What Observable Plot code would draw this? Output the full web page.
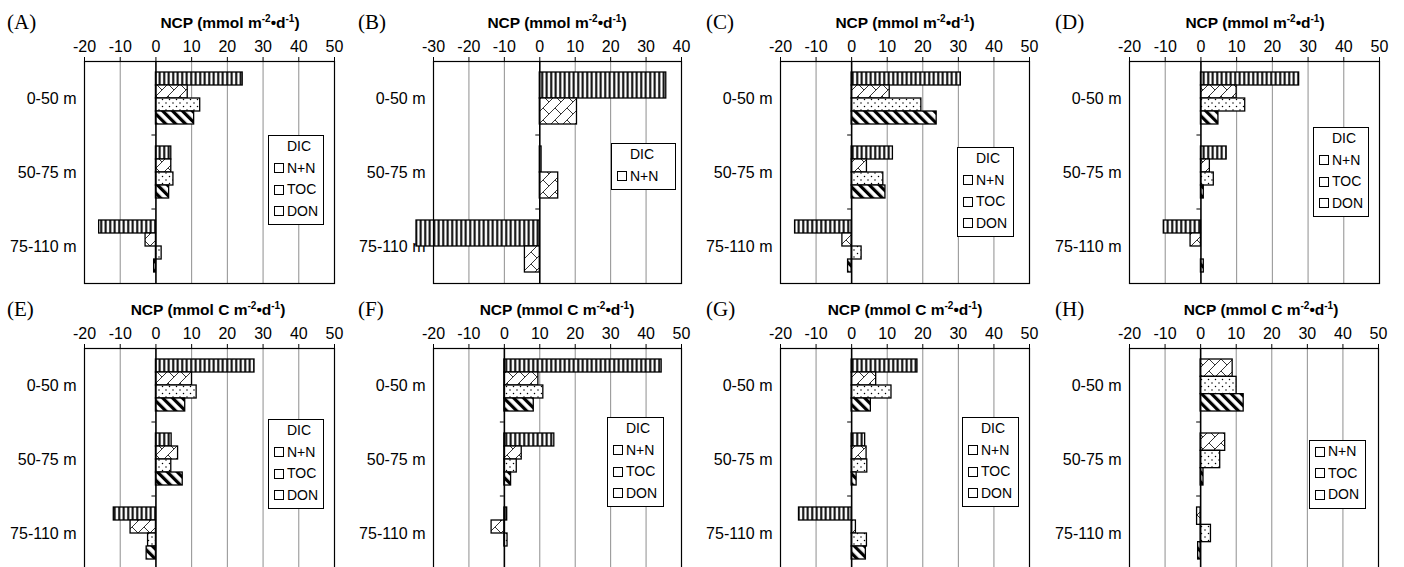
<!DOCTYPE html>
<html><head><meta charset="utf-8">
<script src="https://cdn.jsdelivr.net/npm/d3@7"></script>
<script src="https://cdn.jsdelivr.net/npm/@observablehq/plot@0.6"></script>
<style>
html,body{margin:0;padding:0;background:#fff;overflow:hidden}
#wrap{position:relative;width:1404px;height:567px;overflow:hidden;font-family:"Liberation Sans",Arial,sans-serif;color:#000}
.panel{position:absolute;width:351px;height:290px}
.panel svg{position:absolute;left:0;top:0}
.letter{position:absolute;font-family:"Liberation Serif","Times New Roman",serif;font-size:21px;line-height:21px}
.title{position:absolute;font-weight:bold;font-size:15.5px;line-height:16px;white-space:nowrap;transform:translateX(-50%)}
.title sup{font-size:10px;vertical-align:0;position:relative;top:-6px}
.legend{position:absolute;border:1px solid #000;background:#fff;font-size:14px;line-height:21.5px;padding:0 0 2px 5px;box-sizing:border-box}
.legend .row{display:flex;align-items:center;white-space:nowrap}
.legend .sw{width:8px;height:8px;border:1px solid #000;margin-right:3px;background:#fff;flex:none}
.legend .nosw{width:10px;margin-right:3px;flex:none}
</style></head>
<body>
<svg width="0" height="0" style="position:absolute">
  <defs>
    <pattern id="pat-dic" patternUnits="userSpaceOnUse" width="4.5" height="10">
      <rect width="4.5" height="10" fill="#fff"/>
      <rect x="1.2" width="2" height="10" fill="#000"/>
    </pattern>
    <pattern id="pat-nn" patternUnits="userSpaceOnUse" width="12" height="12">
      <rect width="12" height="12" fill="#fff"/>
      <path d="M-1,13 L13,-1 M0,0 L6,6" stroke="#000" stroke-width="0.8" fill="none"/>
    </pattern>
    <pattern id="pat-toc" patternUnits="userSpaceOnUse" width="7" height="7">
      <rect width="7" height="7" fill="#fff"/>
      <circle cx="1.5" cy="1.5" r="0.75" fill="#000"/>
      <circle cx="5" cy="5" r="0.75" fill="#000"/>
    </pattern>
    <pattern id="pat-don" patternUnits="userSpaceOnUse" width="7" height="7" patternTransform="rotate(-45)">
      <rect width="7" height="7" fill="#fff"/>
      <rect width="3.2" height="7" fill="#000"/>
    </pattern>
  </defs>
</svg>
<div id="wrap"></div>
<script>
// ---- data ----
const depths = ["0-50 m", "50-75 m", "75-110 m"];
const series = ["DIC", "N+N", "TOC", "DON"];
const patternIds = ["pat-dic", "pat-nn", "pat-toc", "pat-don"];

// values per panel: [DIC, N+N, TOC, DON], each over depths (null = series absent)
const valuesA = [[24.3, 4.3, -15.9], [8.9, 4.3, -2.9], [12.4, 4.9, 1.6], [10.7, 3.7, -0.5]];
const valuesB = [[35.7, 0.5, -34.8], [10.5, 5.2, -4.2], null, null];
const valuesC = [[30.7, 11.6, -15.9], [10.7, 4.3, -2.6], [19.6, 8.9, 2.8], [23.9, 9.5, -1.0]];
const valuesD = [[27.5, 7.2, -10.4], [10.0, 2.5, -2.9], [12.4, 3.6, 0], [4.9, 0.8, 0.8]];
const valuesE = [[27.6, 4.4, -11.8], [10.1, 6.2, -7.1], [11.4, 4.3, -2.2], [8.2, 7.5, -2.6]];
const valuesF = [[44.4, 14.1, 0.8], [9.6, 4.9, -3.6], [11.0, 3.5, 0.9], [8.3, 1.9, 0]];
const valuesG = [[18.5, 3.8, -14.8], [6.9, 4.2, 1.2], [11.2, 4.4, 4.3], [5.4, 1.4, 4.0]];
const valuesH = [null, [9.0, 6.9, -1.0], [10.1, 5.5, 2.9], [12.1, 0.8, -0.7]];

const ticksStd = [-20, -10, 0, 10, 20, 30, 40, 50];
const ticksB = [-30, -20, -10, 0, 10, 20, 30, 40];
const letters = ["(A)", "(B)", "(C)", "(D)", "(E)", "(F)", "(G)", "(H)"];
const unitRow1 = "mmol m";
const unitRow2 = "mmol C m";

// ---- layout (panel-local pixel positions) ----
const panels = [
  {vals: valuesA, ticks: ticksStd, x0: 84, x1: 334, tcx: 230, lg: [268, 135, 56]},
  {vals: valuesB, ticks: ticksB,   x0: 82, x1: 330, tcx: 206, lg: [260, 143, 65]},
  {vals: valuesC, ticks: ticksStd, x0: 78, x1: 327, tcx: 203, lg: [255, 147, 57]},
  {vals: valuesD, ticks: ticksStd, x0: 76, x1: 326, tcx: 202, lg: [260, 127, 56]},
  {vals: valuesE, ticks: ticksStd, x0: 84, x1: 334, tcx: 208, lg: [268, 132, 56]},
  {vals: valuesF, ticks: ticksStd, x0: 82, x1: 330, tcx: 206, lg: [256, 130, 57]},
  {vals: valuesG, ticks: ticksStd, x0: 78, x1: 327, tcx: 203, lg: [260, 130, 57]},
  {vals: valuesH, ticks: ticksStd, x0: 76, x1: 325, tcx: 208, lg: [256, 153, 57]}
];
const colLeft = [0, 351, 702, 1053];
const rowTop = [0, 287];

const wrap = document.getElementById("wrap");
const W = 351, H = 290, MT = 61, MB = 7;
const band = (H - MT - MB) / 3;
const pad = 11;

panels.forEach((p, idx) => {
  const row = Math.floor(idx / 4), col = idx % 4;
  const div = document.createElement("div");
  div.className = "panel";
  div.style.left = colLeft[col] + "px";
  div.style.top = rowTop[row] + "px";

  const present = series.map((s, i) => i).filter(i => p.vals[i]);
  const n = present.length;
  const slot = (band - 2 * pad) / n;
  const grid = p.ticks.filter((t, i) => t !== 0 && i > 0 && i < p.ticks.length - 1);
  const domain = [p.ticks[0], p.ticks[p.ticks.length - 1]];

  const barMarks = present.map((si, k) => {
    const data = depths.map((d, j) => ({depth: d, value: p.vals[si][j]})).filter(d => d.value !== 0);
    return Plot.barX(data, {
      x: "value", y: "depth",
      fill: `url(#${patternIds[si]})`, stroke: "#000", strokeWidth: 1.3,
      insetTop: pad + k * slot, insetBottom: band - pad - (k + 1) * slot
    });
  });

  const chart = Plot.plot({
    width: W, height: H,
    marginLeft: p.x0, marginRight: W - p.x1, marginTop: MT, marginBottom: MB,
    style: {fontFamily: "'Liberation Sans', Arial, sans-serif", fontSize: "16px", background: "transparent", color: "#000"},
    x: {domain, axis: "top", ticks: p.ticks, tickSize: 5, tickPadding: 5, line: true, label: null,
        tickFormat: d => (d < 0 ? "-" + Math.abs(d) : String(d))},
    y: {domain: depths, padding: 0, axis: "left", tickSize: 0, tickPadding: 8, label: null},
    marks: [
      Plot.ruleX(grid, {stroke: "#8f8f8f", strokeWidth: 1}),
      ...barMarks,
      Plot.ruleX([0], {stroke: "#000", strokeWidth: 1.6}),
      Plot.barX(depths.slice(1), {y: d => d, x1: 0, x2: 0, insetLeft: -4, insetTop: -0.5, insetBottom: band - 0.5, fill: "#000"}),
      Plot.frame({stroke: "#000", strokeWidth: 1.2})
    ]
  });
  div.appendChild(chart);

  const letter = document.createElement("div");
  letter.className = "letter";
  letter.textContent = letters[idx];
  letter.style.left = (col === 0 ? 7 : col === 1 ? 7 : col === 2 ? 4 : 2) + "px";
  letter.style.top = "12px";
  div.appendChild(letter);

  const title = document.createElement("div");
  title.className = "title";
  title.innerHTML = "NCP (" + (row === 0 ? unitRow1 : unitRow2) + "<sup>-2</sup>•d<sup>-1</sup>)";
  title.style.left = p.tcx + "px";
  title.style.top = "15px";
  div.appendChild(title);

  const lg = document.createElement("div");
  lg.className = "legend";
  lg.style.left = p.lg[0] + "px";
  lg.style.top = p.lg[1] + "px";
  lg.style.width = p.lg[2] + "px";
  present.forEach(si => {
    const r = document.createElement("div");
    r.className = "row";
    const sw = document.createElement("span");
    sw.className = si === 0 ? "nosw" : "sw";
    r.appendChild(sw);
    const t = document.createElement("span");
    t.textContent = series[si];
    r.appendChild(t);
    lg.appendChild(r);
  });
  div.appendChild(lg);

  wrap.appendChild(div);
});
</script>
</body></html>
